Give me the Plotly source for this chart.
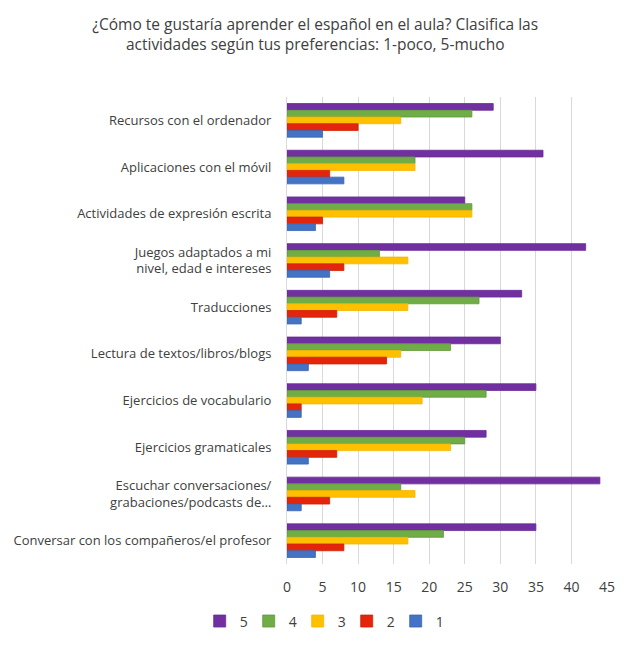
import plotly.graph_objects as go

# categorías (de arriba a abajo, como en el original)
actividades = [
    "Recursos con el ordenador",
    "Aplicaciones con el móvil",
    "Actividades de expresión escrita",
    "Juegos adaptados a mi<br>nivel, edad e intereses",
    "Traducciones",
    "Lectura de textos/libros/blogs",
    "Ejercicios de vocabulario",
    "Ejercicios gramaticales",
    "Escuchar conversaciones/<br>grabaciones/podcasts de…",
    "Conversar con los compañeros/el profesor",
]

nivel_5 = [29, 36, 25, 42, 33, 30, 35, 28, 44, 35]
nivel_4 = [26, 18, 26, 13, 27, 23, 28, 25, 16, 22]
nivel_3 = [16, 18, 26, 17, 17, 16, 19, 23, 18, 17]
nivel_2 = [10, 6, 5, 8, 7, 14, 2, 7, 6, 8]
nivel_1 = [5, 8, 4, 6, 2, 3, 2, 3, 2, 4]

x_ticks = [0, 5, 10, 15, 20, 25, 30, 35, 40, 45]

SERIES = [
    ("5", nivel_5, "#7030A0", "#6A2C96"),
    ("4", nivel_4, "#70AD47", "#5E9A3A"),
    ("3", nivel_3, "#FFC000", "#F2B600"),
    ("2", nivel_2, "#E3260B", "#D22008"),
    ("1", nivel_1, "#4472C4", "#3A64B0"),
]

FONT = "Open Sans, Noto Sans, sans-serif"
TXT = "#404040"

fig = go.Figure()
for nombre, vals, color, borde in SERIES:
    fig.add_trace(go.Bar(
        x=vals,
        y=actividades,
        orientation="h",
        name=nombre,
        marker=dict(color=color, line=dict(color=borde, width=0.8)),
    ))

# el body de la página deja 8px de margen: la figura se reduce en esa medida
fig.update_layout(
    width=627,
    height=642,
    barmode="group",
    bargap=0.28,
    bargroupgap=0,
    paper_bgcolor="white",
    plot_bgcolor="white",
    font=dict(family=FONT, size=13, color=TXT),
    title=dict(
        text="¿Cómo te gustaría aprender el español en el aula? Clasifica las<br>actividades según tus preferencias: 1-poco, 5-mucho",
        x=0.49,
        xanchor="center",
        y=0.966,
        yanchor="top",
        font=dict(family=FONT, size=15.5, color="#404040"),
    ),
    margin=dict(l=279, r=28, t=89, b=83),
    xaxis=dict(
        range=[0, 45],
        tickvals=x_ticks,
        automargin=False,
        showgrid=True,
        gridcolor="#D9D9D9",
        gridwidth=1,
        zeroline=False,
        showline=False,
        ticks="",
        ticklabelstandoff=13,
        tickfont=dict(size=14, color=TXT),
    ),
    yaxis=dict(
        autorange="reversed",
        automargin=False,
        showline=True,
        linecolor="#D9D9D9",
        linewidth=1,
        showgrid=False,
        zeroline=False,
        ticks="",
        ticklabelstandoff=12,
        tickfont=dict(size=13, color=TXT),
    ),
    legend=dict(
        orientation="h",
        x=0.11,
        xanchor="center",
        y=-0.123,
        yanchor="middle",
        font=dict(size=14, color=TXT),
        itemwidth=30,
        entrywidth=4,
        entrywidthmode="pixels",
    ),
)

fig.write_html("out.html")
